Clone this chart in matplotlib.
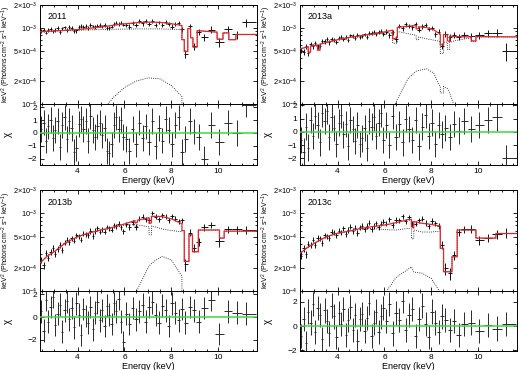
import matplotlib
matplotlib.use("Agg")
import matplotlib.pyplot as plt
import numpy as np
from matplotlib.ticker import FixedLocator, FixedFormatter, LogLocator, MultipleLocator, NullFormatter

plt.rcParams['font.family'] = ['Liberation Sans', 'DejaVu Sans']
plt.rcParams['mathtext.default'] = 'regular'

SCALE = 1e-4  # spectra are listed in units of 1e-4 keV^2 (Photons cm^-2 s^-1 keV^-1)

# bin centres (keV), shared by the four spectra
energy = [2.45, 2.55, 2.65, 2.75, 2.85, 2.95, 3.05, 3.15, 3.25, 3.35, 3.45, 3.55, 3.65, 3.75, 3.85, 3.95, 4.05, 4.15,
          4.25, 4.35, 4.45, 4.55, 4.65, 4.75, 4.85, 4.95, 5.05, 5.15, 5.25, 5.35, 5.45, 5.55, 5.65, 5.75, 5.85, 5.95,
          6.07, 6.21, 6.35, 6.49, 6.63, 6.77, 6.91, 7.05, 7.19, 7.33, 7.47, 7.61, 7.75, 7.89, 8.03, 8.17, 8.31, 8.45,
          8.6, 8.78, 8.96, 9.16, 9.4, 9.7, 10.05, 10.4, 10.8, 11.2]

# ---- 2011 ----
flux_2011 = [9.1, 9.4, 8.7, 9.4, 9.7, 9.0, 9.4, 9.9, 8.85, 9.85, 10.2, 9.4, 10.2, 10.0, 9.0, 9.25, 10.35, 10.65,
             10.3, 10.65, 9.9, 11.0, 10.5, 10.25, 10.75, 11.0, 10.5, 10.9, 10.0, 9.95, 10.4, 11.3, 11.7, 11.25, 11.7, 11.05,
             10.95, 10.4, 11.7, 10.9, 12.2, 11.45, 12.2, 11.35, 12.35, 10.9, 11.8, 10.95, 12.0, 11.3, 10.4, 11.3, 11.6, 9.65,
             4.6, 10.5, 5.7, 8.9, 7.6, 9.5, 6.5, 9.6, 8.2, 11.8]
ferr_2011 = [0.5, 0.55, 0.5, 0.55, 0.55, 0.5, 0.55, 0.6, 0.5, 0.55, 0.55, 0.55, 0.6, 0.55, 0.55, 0.55, 0.6, 0.6,
             0.55, 0.6, 0.55, 0.6, 0.55, 0.6, 0.6, 0.6, 0.55, 0.6, 0.55, 0.6, 0.55, 0.6, 0.6, 0.55, 0.6, 0.55,
             0.7, 0.75, 0.7, 0.7, 0.75, 0.7, 0.75, 0.7, 0.75, 0.7, 0.7, 0.7, 0.75, 0.7, 0.75, 0.7, 0.75, 0.7,
             0.6, 0.9, 0.6, 0.85, 0.8, 1.0, 0.9, 1.1, 1.0, 1.4]
chi_2011 = [0.3, 0.8, -0.6, 0.5, 1.0, -0.4, 0.2, 0.9, -1.1, 0.6, 1.2, -0.5, 0.9, 0.4, -1.5, -1.2, 0.7, 1.1,
            0.3, 0.9, -0.6, 1.3, 0.2, -0.3, 0.5, 0.8, -0.2, 0.4, -1.4, -1.6, -0.9, 0.6, 1.2, 0.3, 1.0, -0.3,
            -0.5, -1.4, 0.3, -0.9, 0.8, -0.4, 0.5, -0.7, 0.9, -1.0, 0.4, -0.6, 1.1, 0.2, -0.9, 0.6, 1.2, -1.5,
            -0.5, 0.9, 0.1, -0.3, -2.0, 0.6, -0.7, 0.8, 0.0, 2.2]
model_e_2011 = [2.4, 3.0, 4.0, 5.0, 5.5, 6.0, 6.5, 7.0, 7.5, 8.0, 8.45, 8.45, 8.55, 8.55, 8.7, 8.7,
                8.82, 8.82, 8.92, 8.92, 9.1, 9.1, 9.95, 9.95, 10.2, 10.2, 10.45, 10.45, 10.75, 10.75, 11.7]
cont_2011 = [8.9, 9.1, 9.35, 9.5, 9.6, 9.65, 9.7, 9.7, 9.7, 9.6, 9.5, 7.0, 7.0, 4.9, 4.9, 9.8,
             9.8, 7.4, 7.4, 5.6, 5.6, 9.2, 8.8, 7.1, 7.1, 8.6, 8.6, 7.0, 7.0, 8.2, 8.2]
gauss_2011 = [0.005, 0.02, 0.15, 0.75, 1.2, 1.65, 2.0, 2.2, 2.15, 1.75, 1.25, 0, 0, 0, 0, 0,
              0, 0, 0, 0, 0, 0, 0, 0, 0, 0, 0, 0, 0, 0, 0]

# ---- 2013a ----
flux_2013a = [5.1, 4.85, 5.7, 4.7, 6.15, 5.75, 6.4, 5.7, 5.8, 6.75, 6.65, 7.15, 6.45, 7.2, 6.95, 6.6, 7.35, 7.65,
              7.15, 7.6, 6.95, 7.95, 7.75, 7.4, 8.0, 7.5, 7.75, 8.2, 7.55, 8.55, 8.5, 8.85, 8.25, 8.8, 9.2, 8.35,
              8.95, 8.0, 8.8, 7.15, 10.7, 9.9, 11.15, 10.65, 10.2, 11.2, 9.5, 10.45, 10.95, 9.7, 9.95, 8.3, 8.95, 5.85,
              8.3, 7.5, 8.1, 7.7, 8.15, 7.8, 8.05, 8.5, 8.7, 5.0]
ferr_2013a = [0.38, 0.4, 0.42, 0.38, 0.42, 0.4, 0.42, 0.4, 0.4, 0.44, 0.42, 0.44, 0.42, 0.44, 0.42, 0.42, 0.44, 0.45,
              0.45, 0.46, 0.44, 0.46, 0.45, 0.45, 0.47, 0.45, 0.46, 0.47, 0.45, 0.48, 0.47, 0.48, 0.47, 0.48, 0.5, 0.47,
              0.65, 0.62, 0.65, 0.6, 0.7, 0.68, 0.72, 0.7, 0.7, 0.72, 0.68, 0.7, 0.72, 0.68, 0.68, 0.65, 0.66, 0.5,
              0.7, 0.7, 0.7, 0.7, 0.7, 0.9, 0.9, 1.0, 1.0, 1.3]
chi_2013a = [-0.6, -1.5, 0.4, -1.2, 0.9, -0.3, 1.2, 0.5, -0.8, 1.4, 0.8, 1.6, -0.4, 1.1, 0.3, -0.9, 0.7, 1.3,
             -0.2, 0.6, -1.1, 0.9, 0.2, -0.7, 0.5, -0.9, -0.5, 0.3, -1.2, 0.8, 0.4, 1.1, -0.3, 0.7, 1.4, -0.6,
             0.5, -1.0, 1.2, -0.4, 0.6, -0.8, 1.0, 0.2, -0.6, 0.9, -1.1, 0.4, 1.3, -0.3, 0.7, -0.9, 0.5, -0.2,
             0.3, -0.4, 0.6, 0.1, 0.8, 0.2, 0.5, 0.9, 1.1, -2.0]
model_e_2013a = [2.4, 2.75, 2.75, 2.85, 2.85, 3.15, 3.15, 3.25, 3.25, 3.5, 4.0, 4.5, 5.0, 5.5, 6.0, 6.35, 6.35,
                 6.55, 6.55, 7.0, 7.35, 7.35, 7.45, 7.45, 7.8, 8.1, 8.3, 8.38, 8.38, 8.52, 8.52, 8.68, 8.68,
                 8.78, 8.78, 9.0, 9.7, 9.7, 9.9, 9.9, 11.7]
cont_2013a = [5.3, 5.65, 4.8, 4.8, 5.8, 5.95, 5.1, 5.1, 6.1, 6.4, 7.0, 7.5, 7.9, 8.3, 8.55, 8.5, 6.3,
              6.3, 9.0, 8.4, 8.0, 7.0, 7.0, 7.6, 7.2, 6.9, 6.7, 6.6, 4.6, 4.6, 6.5, 6.5, 5.2,
              5.2, 6.4, 6.8, 7.4, 6.6, 6.6, 7.6, 7.6]
gauss_2013a = [0, 0, 0, 0, 0, 0, 0, 0, 0, 0, 0, 0, 0, 0, 0.3, 0.85, 0.85,
               1.15, 1.15, 2.15, 2.7, 2.7, 2.75, 2.75, 2.9, 2.55, 1.85, 1.7, 1.4, 1.4, 1.7, 1.6, 1.6,
               1.4, 1.4, 0.9, 0.2, 0.2, 0.1, 0.1, 0.02]

# ---- 2013b ----
flux_2013b = [2.5, 2.15, 3.1, 2.7, 3.2, 3.6, 3.0, 3.5, 3.95, 3.4, 4.2, 4.6, 4.3, 4.75, 4.45, 5.2, 5.05, 4.6,
              5.5, 5.4, 5.2, 5.95, 5.15, 5.95, 6.45, 5.8, 6.3, 5.8, 6.7, 6.45, 6.15, 7.05, 6.85, 7.4, 6.6, 5.9,
              7.2, 6.75, 7.7, 6.7, 8.5, 9.05, 8.35, 8.15, 10.1, 9.1, 8.4, 9.4, 9.05, 8.1, 9.2, 8.55, 7.9, 8.2,
              2.2, 5.65, 3.6, 4.3, 6.6, 7.15, 4.35, 6.25, 6.2, 6.15]
ferr_2013b = [0.22, 0.24, 0.28, 0.26, 0.28, 0.3, 0.28, 0.3, 0.32, 0.3, 0.33, 0.35, 0.33, 0.36, 0.34, 0.38, 0.37, 0.35,
              0.45, 0.44, 0.43, 0.46, 0.43, 0.46, 0.48, 0.45, 0.47, 0.45, 0.48, 0.47, 0.46, 0.5, 0.49, 0.5, 0.48, 0.45,
              0.6, 0.58, 0.62, 0.58, 0.63, 0.66, 0.62, 0.62, 0.7, 0.65, 0.62, 0.66, 0.65, 0.6, 0.65, 0.62, 0.6, 0.6,
              0.4, 0.6, 0.45, 0.55, 0.6, 0.7, 0.7, 0.7, 0.75, 0.8]
chi_2013b = [0.5, -1.2, 1.5, -0.4, 0.9, 1.8, -0.7, 0.3, 1.1, -1.3, 0.6, 1.4, -0.2, 0.8, -0.9, 1.2, 0.2, -1.6,
             0.7, 0.1, -0.5, 0.9, -1.1, 0.4, 1.3, -0.3, 0.6, -0.8, 1.0, 0.2, -0.6, 1.2, 0.5, 1.6, -0.4, -2.2,
             0.3, -0.6, 0.8, -0.2, 0.5, 1.1, -0.4, 0.9, 1.3, 0.2, -0.5, 1.0, 0.6, -0.8, 1.2, 0.4, -0.3, 0.7,
             -0.5, 0.9, 0.6, -0.4, 0.8, 1.5, -1.5, 0.5, 0.4, 0.3]
model_e_2013b = [2.4, 2.7, 3.0, 3.5, 4.0, 4.5, 5.0, 5.5, 6.0, 6.45, 6.45, 6.55, 6.55, 7.05, 7.05, 7.15, 7.15,
                 7.3, 7.6, 8.0, 8.45, 8.45, 8.55, 8.55, 8.75, 8.75, 8.9, 8.9, 9.15, 9.15, 10.05, 10.05,
                 10.25, 10.25, 11.7]
cont_2013b = [2.3, 2.8, 3.2, 4.2, 5.0, 5.6, 6.1, 6.6, 7.0, 7.2, 6.6, 6.6, 7.1, 6.7, 5.3, 5.3, 6.9,
              6.7, 6.3, 6.0, 5.8, 6.0, 6.0, 2.4, 2.4, 5.3, 5.3, 3.2, 3.2, 6.1, 6.1, 4.8,
              4.8, 5.9, 5.9]
gauss_2013b = [0, 0, 0, 0, 0, 0, 0, 0, 0.3, 0.9, 0.9, 1.05, 1.05, 2.1, 2.1, 2.25, 2.25,
               2.45, 2.8, 2.5, 1.55, 0, 0, 0, 0, 0, 0, 0, 0, 0, 0, 0,
               0, 0, 0]

# ---- 2013c ----
flux_2013c = [2.85, 3.55, 3.0, 4.05, 3.9, 4.6, 3.9, 4.85, 4.75, 4.2, 5.2, 5.05, 4.85, 5.8, 5.65, 5.2, 6.0, 5.7,
              6.45, 5.45, 6.15, 6.75, 5.9, 6.55, 5.6, 6.6, 6.9, 6.25, 6.9, 7.55, 6.3, 6.9, 7.45, 6.65, 7.4, 7.8,
              7.4, 8.4, 7.1, 8.25, 8.1, 9.2, 7.95, 8.85, 7.35, 7.4, 8.2, 8.5, 7.5, 6.8, 8.0, 7.45, 6.9, 3.95,
              1.95, 1.7, 2.9, 5.7, 6.2, 6.3, 4.55, 4.85, 5.35, 5.65]
ferr_2013c = [0.3, 0.33, 0.32, 0.36, 0.35, 0.38, 0.35, 0.38, 0.38, 0.36, 0.4, 0.4, 0.38, 0.42, 0.42, 0.4, 0.44, 0.42,
              0.5, 0.48, 0.5, 0.52, 0.49, 0.5, 0.48, 0.5, 0.52, 0.5, 0.52, 0.55, 0.5, 0.52, 0.54, 0.5, 0.53, 0.55,
              0.6, 0.65, 0.58, 0.63, 0.62, 0.68, 0.6, 0.65, 0.6, 0.6, 0.62, 0.64, 0.6, 0.57, 0.62, 0.6, 0.58, 0.5,
              0.35, 0.3, 0.4, 0.6, 0.6, 0.7, 0.6, 0.6, 0.7, 0.8]
chi_2013c = [-0.8, 0.6, -1.4, 1.2, 0.3, 1.8, -0.5, 1.5, 0.9, -1.1, 1.3, 0.4, -0.6, 1.7, 0.8, -0.9, 1.1, 0.2,
             1.4, -0.7, 0.5, 1.6, -0.3, 0.9, -1.2, 0.6, 1.0, -0.4, 0.7, 1.9, -0.8, 0.3, 1.2, -0.5, 0.8, 1.5,
             0.4, 1.8, -0.6, 1.1, 0.5, 2.1, -0.3, 0.9, 1.4, -0.8, 0.6, 1.7, 0.2, -0.9, 1.2, 0.3, -0.5, 0.8,
             0.5, -0.3, 0.4, -0.7, 0.2, 0.3, -0.4, 0.1, -0.2, 0.2]
model_e_2013c = [2.4, 2.7, 3.0, 3.5, 4.0, 4.5, 5.0, 5.5, 6.1, 6.5, 7.0, 7.15, 7.15, 7.25, 7.25, 7.6, 8.0,
                 8.38, 8.38, 8.52, 8.52, 8.88, 8.88, 9.1, 9.1, 9.9, 9.9, 10.75, 10.75, 11.7]
cont_2013c = [3.05, 3.6, 4.1, 4.95, 5.55, 5.9, 6.35, 6.4, 6.15, 6.1, 6.4, 6.3, 4.7, 4.7, 6.1, 5.75, 5.75,
              5.9, 3.55, 3.55, 1.77, 1.77, 2.76, 2.76, 6.1, 6.1, 4.8, 4.8, 5.5, 5.5]
gauss_2013c = [0, 0, 0, 0, 0, 0, 0.05, 0.35, 1.0, 1.5, 1.9, 2.05, 2.05, 1.75, 1.75, 1.7, 1.45,
               0.95, 0, 0, 0, 0, 0, 0, 0, 0, 0, 0, 0, 0]

spec_ticks = [1e-4, 2e-4, 5e-4, 1e-3, 2e-3]
spec_labels = [r'$10^{-4}$', r'$2{\times}10^{-4}$', r'$5{\times}10^{-4}$', r'$10^{-3}$', r'$2{\times}10^{-3}$']

RED = '#e3242b'
GREEN = '#3fd83f'
FS = 6


def style_axes(ax):
    ax.tick_params(which='both', direction='in', top=True, right=True, labelsize=FS, pad=2, width=0.6)
    ax.tick_params(which='major', length=3)
    ax.tick_params(which='minor', length=1.5)
    for s in ax.spines.values():
        s.set_linewidth(0.7)
    ax.set_xlim(2.4, 11.65)
    ax.xaxis.set_major_locator(MultipleLocator(2))
    ax.xaxis.set_minor_locator(MultipleLocator(0.5))


def draw(fig, pos_s, pos_r, label, flux, ferr, chi, m_e, cont, gauss, rlim, rticks):
    e = np.array(energy)
    edges = np.concatenate([[2.4], (e[1:] + e[:-1]) / 2, [11.6]])
    xerr = [e - edges[:-1], edges[1:] - e]

    ax = fig.add_axes(pos_s)
    ax.set_yscale('log', nonpositive='clip')
    ax.errorbar(e, np.array(flux) * SCALE, xerr=xerr, yerr=np.array(ferr) * SCALE,
                fmt='none', ecolor='#111111', elinewidth=0.7, zorder=2)
    c = np.array(cont) * SCALE
    g = np.array(gauss) * SCALE
    ax.plot(m_e, c, color='k', ls=(0, (1, 1.6)), lw=0.6, zorder=3)
    ax.plot(m_e, g, color='k', ls=(0, (1, 1.6)), lw=0.6, zorder=3)
    ax.plot(m_e, c + g, color=RED, lw=0.9, zorder=4)
    ax.set_ylim(1e-4, 2e-3)
    style_axes(ax)
    ax.yaxis.set_major_locator(FixedLocator(spec_ticks))
    ax.yaxis.set_major_formatter(FixedFormatter(spec_labels))
    ax.yaxis.set_minor_locator(LogLocator(subs=(3, 4, 6, 7, 8, 9)))
    ax.yaxis.set_minor_formatter(NullFormatter())
    ax.tick_params(axis='y', labelsize=5.3)
    ax.set_xticklabels([])
    ax.set_ylabel(r'keV$^2$ (Photons cm$^{-2}$ s$^{-1}$ keV$^{-1}$)', fontsize=5.0)
    ax.yaxis.set_label_coords(-0.125, 0.5)
    ax.text(0.037, 0.88, label, transform=ax.transAxes, fontsize=6.5, va='center')

    axr = fig.add_axes(pos_r)
    axr.errorbar(e, chi, xerr=xerr, yerr=1.0, fmt='none', ecolor='#2a2a2a', elinewidth=0.7, zorder=2)
    axr.axhline(0, color=GREEN, lw=1.1, zorder=3)
    axr.set_ylim(*rlim)
    style_axes(axr)
    axr.set_yticks(rticks)
    axr.set_ylabel('χ', fontsize=7)
    axr.yaxis.set_label_coords(-0.125, 0.5)
    axr.set_xlabel('Energy (keV)', fontsize=FS + 0.5, labelpad=1)


fig = plt.figure(figsize=(5.2, 3.7), dpi=100)

xl, xr, w = 40 / 520, 300 / 520, 217 / 520
top_s = 1 - 104 / 370, 99 / 370
top_r = 1 - 165 / 370, 61 / 370
bot_s = 1 - 291 / 370, 101 / 370
bot_r = 1 - 351 / 370, 60 / 370

draw(fig, [xl, top_s[0], w, top_s[1]], [xl, top_r[0], w, top_r[1]], '2011',
     flux_2011, ferr_2011, chi_2011, model_e_2011, cont_2011, gauss_2011, (-2.5, 2.25), [-2, -1, 0, 1, 2])
draw(fig, [xr, top_s[0], w, top_s[1]], [xr, top_r[0], w, top_r[1]], '2013a',
     flux_2013a, ferr_2013a, chi_2013a, model_e_2013a, cont_2013a, gauss_2013a, (-2.5, 2.1), [-2, -1, 0, 1, 2])
draw(fig, [xl, bot_s[0], w, bot_s[1]], [xl, bot_r[0], w, bot_r[1]], '2013b',
     flux_2013b, ferr_2013b, chi_2013b, model_e_2013b, cont_2013b, gauss_2013b, (-3.0, 2.3), [-2, 0, 2])
draw(fig, [xr, bot_s[0], w, bot_s[1]], [xr, bot_r[0], w, bot_r[1]], '2013c',
     flux_2013c, ferr_2013c, chi_2013c, model_e_2013c, cont_2013c, gauss_2013c, (-2.05, 2.9), [-2, 0, 2])

fig.savefig('out.png', dpi=100)
